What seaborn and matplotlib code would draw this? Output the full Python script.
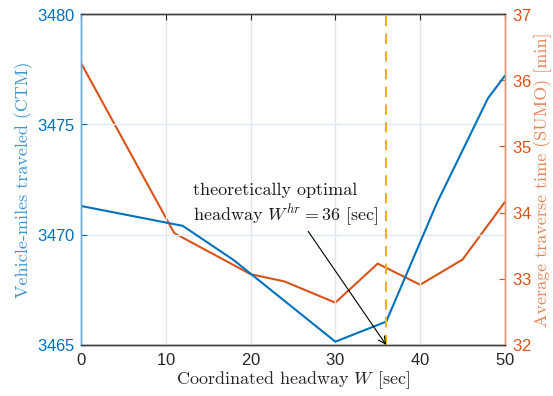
import numpy as np
import pandas as pd
import matplotlib
matplotlib.use('Agg')
import matplotlib.pyplot as plt
import seaborn as sns

# datos
w_ctm = [0, 12, 18, 24, 30, 36, 42, 48, 50]
vmt_ctm = [3471.3, 3470.4, 3468.85, 3467.0, 3465.15, 3466.06, 3471.45, 3476.18, 3477.2]

w_sumo = [0, 11, 20, 24, 30, 35, 40, 45, 50]
time_sumo = [36.26, 33.69, 33.07, 32.96, 32.64, 33.23, 32.91, 33.29, 34.16]

w_opt = 36
x_ticks = [0, 10, 20, 30, 40, 50]
left_ticks = [3465, 3470, 3475, 3480]
right_ticks = [32, 33, 34, 35, 36, 37]

blue = '#0072BD'
orange = '#D95319'

sns.set_style('white')
plt.rcParams['font.family'] = ['Liberation Sans', 'DejaVu Sans']
plt.rcParams['mathtext.fontset'] = 'cm'
plt.rcParams['axes.formatter.use_mathtext'] = True
serif = 'cmr10'

df_ctm = pd.DataFrame({'W': w_ctm, 'VMT': vmt_ctm})
df_sumo = pd.DataFrame({'W': w_sumo, 'T': time_sumo})

fig = plt.figure(figsize=(5.53, 3.96), dpi=100)
ax = fig.add_axes([0.1465, 0.1288, 0.7665, 0.8358])
ax2 = ax.twinx()

# grid
for x in x_ticks[1:-1]:
    ax.axvline(x, color='#e5e5e5', lw=1, zorder=0)
for y in left_ticks[1:-1]:
    ax.axhline(y, color='#dcebf7', lw=1, zorder=0)

sns.lineplot(data=df_ctm, x='W', y='VMT', ax=ax, color=blue, lw=1.5)
sns.lineplot(data=df_sumo, x='W', y='T', ax=ax2, color=orange, lw=1.5)
ax.axvline(w_opt, color='#EDB120', lw=1.5, ls=(0, (5, 3.5)), zorder=5)

ax.set_xlim(0, 50)
ax.set_ylim(3465, 3480)
ax2.set_ylim(32, 37)
ax.set_xticks(x_ticks)
ax.set_yticks(left_ticks)
ax2.set_yticks(right_ticks)

ax.tick_params(axis='x', direction='in', length=4, labelsize=12, colors='#262626',
               top=True, pad=5)
ax.tick_params(axis='y', direction='in', length=4, labelsize=12, colors=blue,
               labelcolor=blue, pad=4)
ax2.tick_params(axis='y', direction='in', length=4, labelsize=12, colors=orange,
                labelcolor=orange, pad=5)
ax2.tick_params(axis='x', top=False, bottom=False)

for a in (ax, ax2):
    a.spines['top'].set_color('#404040')
    a.spines['bottom'].set_color('#404040')
    a.spines['left'].set_color('#6aaad8')
    a.spines['right'].set_color('#e39470')
    for s in a.spines.values():
        s.set_linewidth(1)

ax.set_xlabel('Coordinated headway $W$ [sec]', fontsize=13, family=serif,
              color='#262626', labelpad=1)
ax.set_ylabel('Vehicle-miles traveled (CTM)', fontsize=13, family=serif,
              color='#3d95d3', labelpad=3)
ax2.set_ylabel('Average traverse time (SUMO) [min]', fontsize=13, family=serif,
               color='#e58457', labelpad=1)

ax.annotate('theoretically optimal\nheadway $W^{hr}=36$ [sec]',
            xy=(w_opt, 3465), xytext=(13.2, 3470.3),
            fontsize=13, family=serif, color='#1a1a1a', ha='left', va='bottom',
            linespacing=1.25,
            arrowprops=dict(arrowstyle='->', color='black', lw=0.8,
                            shrinkA=0, shrinkB=0,
                            relpos=(0.61, 0.0)),
            zorder=6)

ax.set_zorder(ax2.get_zorder() + 1)
ax.patch.set_visible(False)

plt.savefig('out.png', dpi=100)
